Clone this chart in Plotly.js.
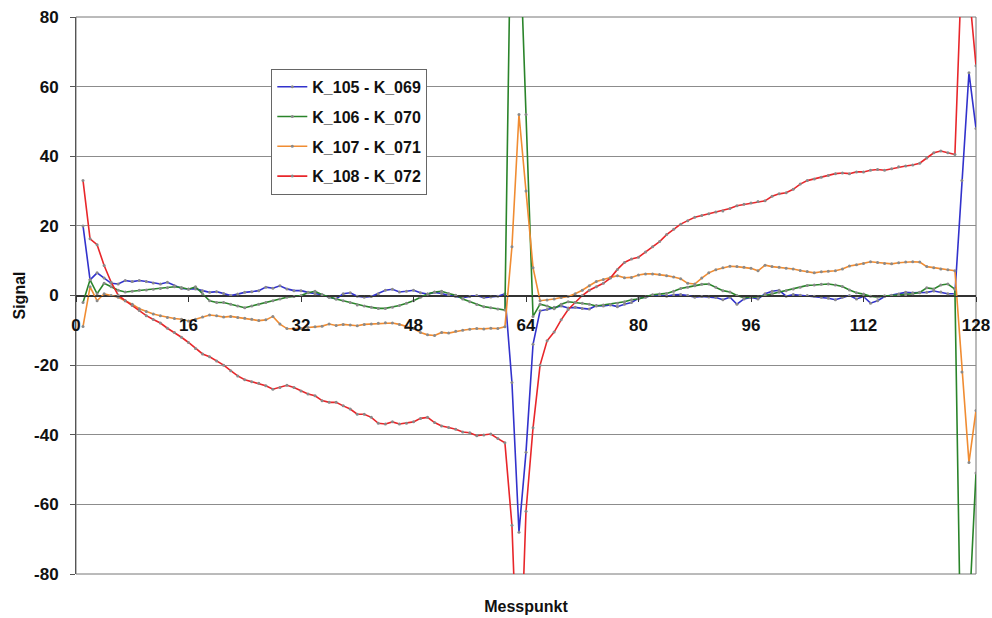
<!DOCTYPE html>
<html>
<head>
<meta charset="utf-8">
<script src="https://cdn.plot.ly/plotly-3.0.1.min.js"></script>
<style>html,body{margin:0;padding:0;background:#fff;}#chart{width:992px;height:618px;}</style>
</head>
<body>
<div id="chart"></div>
<script>
// Messpunkt 1..128
const messpunkt = Array.from({length: 128}, (_, i) => i + 1);

const seriesNames = ["K_105 - K_069", "K_106 - K_070", "K_107 - K_071", "K_108 - K_072"];

const k105 = [
 20, 4.5, 6.5, 5, 3.5, 3.3, 4.3, 4, 4.3, 4, 3.6, 3.3, 3.8, 2.8, 2, 1.9,
 1.9, 1.4, 0.9, 1.1, 0.6, 0, 0.4, 0.9, 1.1, 1.4, 2.4, 2.1, 2.8, 1.9, 1.4, 1.4,
 0.9, 0.5, 0.2, -0.5, -1, 0.5, 0.8, -0.2, -0.5, -0.3, 0.5, 1.5, 1.8, 1, 1.2, 1.5,
 0.8, 0.4, 0.9, 0.6, 0, -0.3, -0.6, -0.3, 0, -0.6, -0.4, -0.2, 0.5, -25, -68, -45,
 -14, -4.4, -4, -3.4, -3, -3.6, -3.4, -3.7, -3.9, -2.9, -3, -2.7, -3.2, -2.5, -2, -0.8,
 -0.5, 0.1, 0, -0.2, 0.2, 0.3, 0, -0.5, -0.3, -0.4, -0.6, -1.2, -0.5, -2.5, -1, -0.6,
 -1, 0.5, 1.2, 1.5, -0.2, 0.3, 0.1, 0, -0.2, -0.5, -0.8, -1.2, -0.5, 0, -1, -0.3,
 -2.2, -1.5, -0.3, 0.1, 0.4, 0.9, 0.8, 0.8, 0.9, 1.3, 1, 0.5, 0.5, 33, 64, 48
];

const k106 = [
 -2, 4.5, 0.5, 3.5, 2.5, 1.5, 1, 1.2, 1.5, 1.6, 1.8, 2, 2.2, 2.5, 2.3, 1.8,
 2.5, 0.5, -1.5, -2, -2, -2.5, -3, -3.5, -3, -2.5, -2, -1.5, -1, -0.5, -0.3, 0,
 0.8, 1.2, 0.2, -0.5, -1, -1.5, -2, -2.7, -3, -3.4, -3.7, -3.7, -3.4, -2.9, -2.2, -1.5,
 -0.5, 0.4, 1, 1.2, 0.6, 0.1, -1, -1.8, -2.6, -3.2, -3.5, -3.9, -4.2, 130, 110, 52,
 -6, -2.5, -3, -3.8, -2.5, -1.8, -2, -2.2, -2.5, -3, -2.7, -2.6, -2.2, -1.8, -1.2, -1,
 -0.4, 0.2, 0.4, 0.6, 1.2, 2, 2.4, 2.8, 3.2, 3.3, 2.4, 1.4, 1, 0, -0.6, -0.5,
 -0.4, 0, 0.5, 0.9, 1.4, 1.9, 2.4, 2.9, 3, 3.2, 3.3, 3, 2.6, 1.6, 0.8, 0.4,
 -0.2, -0.5, -0.1, 0, 0.1, 0.2, 0.5, 0.9, 2.2, 1.9, 3, 3.3, 1.8, -125, -92, -51
];

const k107 = [
 -8.9, 2.5, -1.5, 0.5, 0, -0.5, -1.5, -2.5, -3.8, -4.6, -5.3, -5.8, -6.3, -6.6, -6.8, -7.3,
 -6.8, -6.2, -5.6, -5.8, -6.2, -6, -6.3, -6.5, -6.8, -7.2, -7, -6, -8.2, -9.5, -9.6, -9.5,
 -9.2, -9, -8.8, -8.2, -8.6, -8.3, -8.5, -8.7, -8.3, -8.2, -8, -7.8, -7.9, -8.3, -8.8, -9.5,
 -10.6, -11.3, -11.5, -10.6, -10.8, -10.3, -10, -9.7, -9.5, -9.6, -9.4, -9.5, -9, 14, 52, 30,
 8, -1.5, -1.3, -1, -0.6, -0.3, 0.5, 1.5, 2.8, 4, 4.6, 5.2, 5.7, 5.1, 5.2, 5.9,
 6.2, 6.2, 6, 5.7, 5.3, 4.8, 3.5, 3.3, 5, 6.5, 7.4, 8, 8.4, 8.3, 8.1, 7.8,
 7.1, 8.7, 8.3, 8.1, 7.8, 7.6, 7.2, 6.9, 6.5, 6.8, 7, 7.1, 7.6, 8.5, 8.8, 9.2,
 9.7, 9.5, 9.2, 9.1, 9.4, 9.6, 9.7, 9.6, 8.3, 8, 7.6, 7.4, 7.1, -22, -48, -33
];

const k108 = [
 33, 16.3, 14.6, 8.6, 3.8, 0.1, -1.5, -2.9, -4.3, -5.8, -6.9, -7.9, -9.4, -10.6, -12, -13.5,
 -15.2, -16.8, -17.6, -18.8, -20, -21.6, -23.1, -24.2, -24.8, -25.2, -25.9, -26.9, -26.4, -25.8, -26.4, -27.4,
 -28.3, -28.8, -30.2, -30.7, -30.7, -31.7, -32.6, -34.1, -34.1, -35, -36.7, -36.9, -36.3, -36.9, -36.7, -36.3,
 -35.3, -35, -36.5, -37.5, -37.9, -38.4, -39.2, -39.4, -40.3, -40.1, -39.8, -41.1, -42.3, -66, -120, -62,
 -38, -20, -13, -10.5, -7, -4, -2, 0, 1.5, 2.5, 3.5, 5, 7.5, 9.5, 10.5, 11,
 12.5, 14, 15.5, 17.5, 19, 20.5, 21.5, 22.5, 23, 23.5, 24, 24.3, 25, 25.8, 26.2, 26.6,
 27, 27.2, 28.5, 29.2, 29.5, 30.5, 32, 33, 33.5, 34, 34.5, 35, 35.2, 35, 35.5, 35.5,
 36, 36.2, 36, 36.4, 37, 37.2, 37.5, 38, 39.5, 41, 41.5, 41, 40.5, 96, 88, 66
];

const xTicks = [0, 16, 32, 48, 64, 80, 96, 112, 128];
const xTickLabels = ["0", "16", "32", "48", "64", "80", "96", "112", "128"];
const yTicks = [-80, -60, -40, -20, 0, 20, 40, 60, 80];
const yTickLabels = ["-80", "-60", "-40", "-20", "0", "20", "40", "60", "80"];

const colors = ["#3232cc", "#2a842a", "#f08c32", "#e8262a"];
const allSeries = [k105, k106, k107, k108];

const FONT = "Liberation Sans, Arial, sans-serif";

const traces = allSeries.map((ys, i) => ({
  type: "scatter",
  mode: "lines+markers",
  name: seriesNames[i],
  legendgroup: "g" + i,
  x: messpunkt,
  y: ys,
  line: {color: colors[i], width: 1.6},
  marker: {size: 3, color: "#8a8a8a", line: {width: 0}},
  cliponaxis: true
}));

const layout = {
  width: 992, height: 618,
  margin: {l: 76, r: 16, t: 17, b: 44},
  paper_bgcolor: "#ffffff",
  plot_bgcolor: "#ffffff",
  showlegend: true,
  font: {family: FONT, color: "#000"},
  legend: {
    x: 0.217, y: 0.907, xanchor: "left", yanchor: "top",
    bordercolor: "#666", borderwidth: 1, bgcolor: "#ffffff",
    font: {family: FONT, size: 16, weight: "bold", color: "#111"},
    tracegroupgap: 6, traceorder: "grouped", itemwidth: 30
  },
  xaxis: {
    range: [0, 128],
    tickvals: xTicks,
    ticktext: xTickLabels,
    anchor: "free", position: 0.5,
    showline: true, linecolor: "#333", linewidth: 1,
    ticks: "outside", ticklen: 5, tickcolor: "#333",
    ticklabelstandoff: 9,
    showgrid: false, zeroline: false,
    tickfont: {family: FONT, size: 17, weight: "bold", color: "#111"},
    title: {text: "Messpunkt", standoff: 266, font: {family: FONT, size: 16, weight: "bold", color: "#111"}},
    automargin: false
  },
  yaxis: {
    range: [-80, 80],
    tickvals: yTicks,
    ticktext: yTickLabels,
    showline: true, linecolor: "#555", linewidth: 1,
    ticks: "outside", ticklen: 5, tickcolor: "#555",
    showgrid: true, gridcolor: "#8c8c8c", gridwidth: 1,
    zeroline: true, zerolinecolor: "#333", zerolinewidth: 1,
    tickfont: {family: FONT, size: 17, weight: "bold", color: "#111"},
    ticklabelstandoff: 8,
    title: {text: "Signal", standoff: 4, font: {family: FONT, size: 16, weight: "bold", color: "#111"}},
    automargin: false
  },
  shapes: [{
    type: "rect", xref: "paper", yref: "paper", x0: 0, x1: 1, y0: 0, y1: 1,
    line: {color: "#777", width: 1}, fillcolor: "rgba(0,0,0,0)", layer: "below"
  }]
};

Plotly.newPlot("chart", traces, layout, {displayModeBar: false, staticPlot: true});
</script>
</body>
</html>
